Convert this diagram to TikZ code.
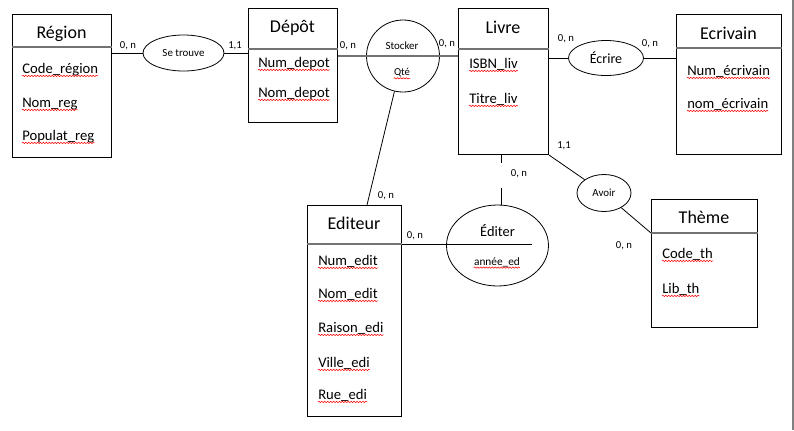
\documentclass[tikz,border=0pt]{standalone}
\usepackage{fontspec}
\setmainfont{Carlito}
\usetikzlibrary{shapes.geometric,decorations.pathmorphing}
\begin{document}
\begin{tikzpicture}[x=0.75pt,y=-0.75pt,
 entity/.style={draw, line width=0.8pt, anchor=north west, inner sep=0pt},
 hdr/.style={draw=black!55, line width=1.2pt},
 ttl/.style={anchor=base, font=\fontsize{13.5}{16}\selectfont, inner sep=0pt},
 attr/.style={anchor=base west, font=\fontsize{11}{13}\selectfont, inner sep=0pt},
 card/.style={anchor=base, font=\fontsize{8}{10}\selectfont, inner sep=0pt},
 relshape/.style={draw, ellipse, line width=0.6pt, inner sep=0pt},
 reltxt/.style={font=\fontsize{8.2}{10}\selectfont, inner sep=0pt},
 link/.style={line width=0.6pt},
 wavy/.style={draw=red, line width=0.4pt, decorate, decoration={snake, amplitude=0.5pt, segment length=2.2pt}}
]
\useasboundingbox (0,0) rectangle (794,430);
\fill[white] (0,0) rectangle (794,430);
\draw[black!50, line width=1.2pt] (793,0) -- (793,430);

% ---------- Entities ----------
% Region
\node[entity, minimum width=99*0.75pt, minimum height=143*0.75pt] (region) at (12,14) {};
\draw[hdr] (region.west |- 0,47) -- (region.east |- 0,47);
\node[ttl] (tregion) at (61.5,38) {Région};
\node[attr] (r1) at (22,73) {Code\_région};
\node[attr] (r2) at (22,107) {Nom\_reg};
\node[attr] (r3) at (22,140) {Populat\_reg};

% Depot
\node[entity, minimum width=89*0.75pt, minimum height=114*0.75pt] (depot) at (248,8) {};
\draw[hdr] (depot.west |- 0,49) -- (depot.east |- 0,49);
\node[ttl] (tdepot) at (292.5,32) {Dépôt};
\node[attr] (d1) at (258,67) {Num\_depot};
\node[attr] (d2) at (258,97) {Nom\_depot};

% Livre
\node[entity, minimum width=90*0.75pt, minimum height=146*0.75pt] (livre) at (458,8) {};
\draw[hdr] (livre.west |- 0,49) -- (livre.east |- 0,49);
\node[ttl] (tlivre) at (503,33) {Livre};
\node[attr] (l1) at (469,68) {ISBN\_liv};
\node[attr] (l2) at (469,103) {Titre\_liv};

% Ecrivain
\node[entity, minimum width=105*0.75pt, minimum height=140*0.75pt] (ecrivain) at (676,14) {};
\draw[hdr] (ecrivain.west |- 0,48) -- (ecrivain.east |- 0,48);
\node[ttl] (tecrivain) at (728.5,39) {Ecrivain};
\node[attr] (e1) at (687,75) {Num\_écrivain};
\node[attr] (e2) at (687,108) {nom\_écrivain};

% Editeur
\node[entity, minimum width=94*0.75pt, minimum height=211*0.75pt] (editeur) at (307,205) {};
\draw[hdr] (editeur.west |- 0,244) -- (editeur.east |- 0,244);
\node[ttl] (tediteur) at (354,229) {Editeur};
\node[attr] (p1) at (318,265) {Num\_edit};
\node[attr] (p2) at (318,298) {Nom\_edit};
\node[attr] (p3) at (318,332) {Raison\_edi};
\node[attr] (p4) at (318,367) {Ville\_edi};
\node[attr] (p5) at (318,399) {Rue\_edi};

% Theme
\node[entity, minimum width=106*0.75pt, minimum height=128*0.75pt] (theme) at (651,199) {};
\coordinate (themehl) at (651,233);
\draw[hdr] (themehl) -- (themehl -| theme.east);
\node[ttl] (ttheme) at (704,223) {Thème};
\node[attr] (t1) at (662,258) {Code\_th};
\node[attr] (t2) at (662,293) {Lib\_th};

% wavy spell-check underlines
\foreach \n in {r1,r2,r3,d1,d2,l1,l2,e1,e2,p1,p2,p3,p4,p5,t1,t2}
  \draw[wavy] ([yshift=-2.2pt]\n.base west) -- ([yshift=-2.2pt]\n.base east);

% ---------- Relationships ----------
\node[relshape, minimum width=81*0.75pt, minimum height=36*0.75pt, reltxt] (st) at (183.5,53) {Se trouve};
\node[relshape, minimum width=73*0.75pt, minimum height=72*0.75pt] (stock) at (403,56) {};
\node[reltxt] (tstock) at (402,46) {Stocker};
\node[reltxt, font=\fontsize{8}{10}\selectfont] (qte) at (402,73) {Qté};
\node[relshape, minimum width=75*0.75pt, minimum height=35*0.75pt, font=\fontsize{10.5}{12}\selectfont] (ecr) at (606,58) {Écrire};
\node[relshape, minimum width=54*0.75pt, minimum height=37*0.75pt, reltxt] (avoir) at (604,193) {Avoir};
\node[relshape, minimum width=102*0.75pt, minimum height=81*0.75pt] (edi) at (497.5,245.5) {};
\node[font=\fontsize{10.8}{12}\selectfont, inner sep=0pt] (tedi) at (497.5,231) {Éditer};
\node[reltxt, font=\fontsize{8.5}{10}\selectfont] (annee) at (497,262) {année\_ed};
\foreach \n in {qte,annee}
  \draw[wavy] ([yshift=-1.8pt]\n.base west) -- ([yshift=-1.8pt]\n.base east);

% ---------- Connectors ----------
\draw[link] (region.east |- st) -- (st);
\draw[link] (st) -- (st -| depot.west);
\draw[hdr] (stock -| depot.east) -- (stock -| livre.west);
\coordinate (edtop) at (367,205);
\draw[link] (stock) -- (edtop);
\draw[link] (livre.east |- ecr) -- (ecr);
\draw[link] (ecr) -- (ecr -| ecrivain.west);
\draw[link] (livre.south east) -- (avoir);
\draw[link] (avoir) -- (themehl);
\coordinate (lb) at (501,154);
\coordinate (lbg1) at (501,163);
\coordinate (lbg2) at (501,188);
\draw[link] (lb) -- (lbg1);
\draw[link] (lbg2) -- (lb |- edi.north);
\coordinate (edr) at (532,244);
\draw[link] (editeur.east |- edr) -- (edr);

% ---------- Cardinalities ----------
\node[card] (c1) at (128,48) {0, n};
\node[card] (c2) at (235,48) {1,1};
\node[card] (c3) at (348,48) {0, n};
\node[card] (c4) at (447,46) {0, n};
\node[card] (c5) at (566,41) {0, n};
\node[card] (c6) at (650,46) {0, n};
\node[card] (c7) at (564,148) {1,1};
\node[card] (c8) at (386,198) {0, n};
\node[card] (c9) at (415,238) {0, n};
\node[card] (c10) at (519,176) {0, n};
\node[card] (c11) at (624,248) {0, n};
\end{tikzpicture}
\end{document}
